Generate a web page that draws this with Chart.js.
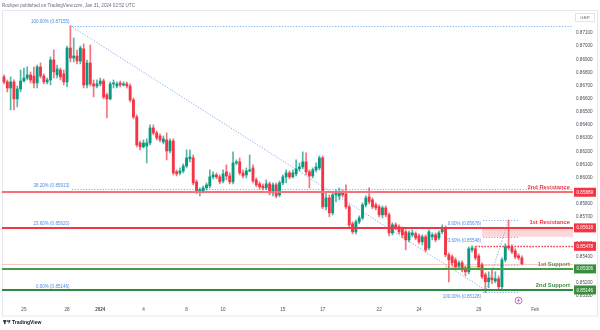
<!DOCTYPE html>
<html>
<head>
<meta charset="utf-8">
<script src="https://cdn.jsdelivr.net/npm/chart.js@4.4.1/dist/chart.umd.min.js"></script>
<style>
  html, body { margin: 0; padding: 0; background: #fff; }
  #wrap { width: 600px; height: 330px; }
</style>
</head>
<body>
<div id="wrap"><canvas id="chart" width="600" height="330"></canvas></div>
<script>
// EURGBP 4h candles, Dec 22 2023 -> Jan 31 2024
const opens = [
  0.86766, 0.86728, 0.86682, 0.86728, 0.86599, 0.86675, 0.86735, 0.86758, 0.86781, 0.86773,
  0.86720, 0.86842, 0.86773, 0.86728, 0.86743, 0.86895, 0.86781, 0.86819, 0.86789, 0.86728,
  0.86986, 0.86910, 0.86925, 0.86887, 0.86979, 0.86705, 0.86872, 0.86713, 0.86697, 0.86713,
  0.86735, 0.86629, 0.86599, 0.86713, 0.86697, 0.86720, 0.86705, 0.86713, 0.86697, 0.86591,
  0.86462, 0.86264, 0.86234, 0.86241, 0.86264, 0.86378, 0.86340, 0.86317, 0.86272, 0.86287,
  0.86203, 0.86279, 0.86044, 0.86036, 0.86051, 0.86089, 0.86143, 0.86150, 0.85968, 0.85892,
  0.85899, 0.85922, 0.85937, 0.86006, 0.86021, 0.86006, 0.85975, 0.86044, 0.86013, 0.85968,
  0.86112, 0.86120, 0.86036, 0.86021, 0.86051, 0.86074, 0.85983, 0.85953, 0.85937, 0.85922,
  0.85953, 0.85884, 0.85945, 0.85869, 0.85960, 0.86006, 0.86036, 0.86006, 0.86029, 0.86067,
  0.86082, 0.86120, 0.86044, 0.86013, 0.86059, 0.86074, 0.86150, 0.85778, 0.85846, 0.85732,
  0.85869, 0.85861, 0.85884, 0.85877, 0.85778, 0.85649, 0.85588, 0.85664, 0.85694, 0.85793,
  0.85854, 0.85831, 0.85793, 0.85778, 0.85717, 0.85770, 0.85717, 0.85580, 0.85641, 0.85626,
  0.85611, 0.85588, 0.85527, 0.85565, 0.85573, 0.85557, 0.85512, 0.85550, 0.85466, 0.85550,
  0.85565, 0.85542, 0.85588, 0.85618, 0.85413, 0.85398, 0.85375, 0.85329, 0.85352, 0.85314,
  0.85284, 0.85451, 0.85459, 0.85405, 0.85337, 0.85261, 0.85208, 0.85238, 0.85215, 0.85231,
  0.85170, 0.85375, 0.85481, 0.85474, 0.85443, 0.85405, 0.85390
];
const highs = [
  0.86781, 0.86743, 0.86766, 0.86743, 0.86697, 0.86819, 0.86834, 0.86842, 0.86804, 0.86842,
  0.86857, 0.86872, 0.86789, 0.86758, 0.86918, 0.86971, 0.86857, 0.86834, 0.86819, 0.87001,
  0.87155, 0.87062, 0.86971, 0.87001, 0.87017, 0.86895, 0.87009, 0.86743, 0.86743, 0.86758,
  0.86751, 0.86644, 0.86728, 0.86743, 0.86728, 0.86735, 0.86728, 0.86728, 0.86713, 0.86606,
  0.86477, 0.86279, 0.86287, 0.86295, 0.86401, 0.86401, 0.86355, 0.86333, 0.86317, 0.86340,
  0.86295, 0.86295, 0.86059, 0.86074, 0.86105, 0.86211, 0.86211, 0.86173, 0.85983, 0.85922,
  0.85937, 0.85960, 0.86059, 0.86044, 0.86036, 0.86021, 0.86059, 0.86097, 0.86036, 0.86196,
  0.86135, 0.86150, 0.86059, 0.86074, 0.86173, 0.86097, 0.85998, 0.85968, 0.85953, 0.85983,
  0.85968, 0.85960, 0.85960, 0.85975, 0.86021, 0.86059, 0.86051, 0.86059, 0.86135, 0.86112,
  0.86196, 0.86188, 0.86059, 0.86074, 0.86112, 0.86165, 0.86165, 0.85892, 0.85869, 0.85892,
  0.85907, 0.85922, 0.85907, 0.85945, 0.85793, 0.85664, 0.85679, 0.85709, 0.85808, 0.85861,
  0.85922, 0.85846, 0.85808, 0.85793, 0.85785, 0.85785, 0.85732, 0.85656, 0.85656, 0.85641,
  0.85626, 0.85603, 0.85595, 0.85603, 0.85588, 0.85573, 0.85565, 0.85565, 0.85603, 0.85580,
  0.85580, 0.85595, 0.85641, 0.85633, 0.85428, 0.85413, 0.85390, 0.85367, 0.85367, 0.85329,
  0.85474, 0.85481, 0.85474, 0.85421, 0.85352, 0.85276, 0.85284, 0.85299, 0.85284, 0.85253,
  0.85390, 0.85497, 0.85678, 0.85489, 0.85459, 0.85421, 0.85405
];
const lows = [
  0.86713, 0.86652, 0.86515, 0.86515, 0.86538, 0.86652, 0.86728, 0.86743, 0.86720, 0.86682,
  0.86682, 0.86758, 0.86713, 0.86713, 0.86705, 0.86758, 0.86758, 0.86743, 0.86705, 0.86690,
  0.86880, 0.86880, 0.86865, 0.86865, 0.86682, 0.86682, 0.86697, 0.86614, 0.86682, 0.86697,
  0.86599, 0.86454, 0.86591, 0.86682, 0.86682, 0.86690, 0.86697, 0.86682, 0.86576, 0.86447,
  0.86234, 0.86211, 0.86226, 0.86112, 0.86249, 0.86325, 0.86287, 0.86272, 0.86257, 0.86135,
  0.86188, 0.86021, 0.86013, 0.86021, 0.86036, 0.86074, 0.86120, 0.85945, 0.85877, 0.85861,
  0.85884, 0.85907, 0.85922, 0.85991, 0.85991, 0.85953, 0.85960, 0.85983, 0.85953, 0.85953,
  0.86097, 0.86021, 0.85998, 0.85998, 0.86044, 0.85960, 0.85930, 0.85915, 0.85907, 0.85907,
  0.85869, 0.85861, 0.85846, 0.85854, 0.85945, 0.85960, 0.85991, 0.85998, 0.86013, 0.86051,
  0.86067, 0.86021, 0.85922, 0.85998, 0.86044, 0.86059, 0.85763, 0.85755, 0.85702, 0.85717,
  0.85816, 0.85831, 0.85854, 0.85763, 0.85626, 0.85573, 0.85573, 0.85649, 0.85679, 0.85778,
  0.85801, 0.85763, 0.85755, 0.85702, 0.85694, 0.85702, 0.85557, 0.85565, 0.85603, 0.85573,
  0.85542, 0.85451, 0.85512, 0.85550, 0.85527, 0.85497, 0.85489, 0.85436, 0.85451, 0.85527,
  0.85512, 0.85527, 0.85573, 0.85398, 0.85208, 0.85329, 0.85299, 0.85314, 0.85284, 0.85253,
  0.85269, 0.85436, 0.85375, 0.85307, 0.85231, 0.85128, 0.85162, 0.85193, 0.85200, 0.85155,
  0.85155, 0.85360, 0.85451, 0.85421, 0.85383, 0.85375, 0.85337
];
const closes = [
  0.86728, 0.86682, 0.86728, 0.86599, 0.86675, 0.86735, 0.86758, 0.86781, 0.86743, 0.86720,
  0.86842, 0.86773, 0.86728, 0.86743, 0.86895, 0.86804, 0.86827, 0.86766, 0.86728, 0.86986,
  0.86910, 0.86925, 0.86887, 0.86986, 0.86705, 0.86872, 0.86713, 0.86697, 0.86713, 0.86735,
  0.86614, 0.86599, 0.86713, 0.86720, 0.86713, 0.86705, 0.86713, 0.86697, 0.86591, 0.86462,
  0.86249, 0.86234, 0.86264, 0.86264, 0.86378, 0.86340, 0.86302, 0.86287, 0.86295, 0.86203,
  0.86279, 0.86036, 0.86029, 0.86051, 0.86089, 0.86150, 0.86158, 0.85960, 0.85892, 0.85907,
  0.85922, 0.85945, 0.86006, 0.86021, 0.86006, 0.85968, 0.86029, 0.86013, 0.85968, 0.86112,
  0.86120, 0.86036, 0.86013, 0.86051, 0.86059, 0.85975, 0.85945, 0.85930, 0.85922, 0.85953,
  0.85884, 0.85945, 0.85861, 0.85960, 0.86006, 0.86036, 0.86006, 0.86036, 0.86067, 0.86082,
  0.86120, 0.86044, 0.86013, 0.86059, 0.86082, 0.86150, 0.85778, 0.85846, 0.85732, 0.85869,
  0.85884, 0.85884, 0.85869, 0.85778, 0.85641, 0.85588, 0.85664, 0.85694, 0.85793, 0.85846,
  0.85816, 0.85778, 0.85770, 0.85717, 0.85770, 0.85717, 0.85580, 0.85641, 0.85618, 0.85588,
  0.85565, 0.85527, 0.85580, 0.85580, 0.85542, 0.85512, 0.85550, 0.85451, 0.85588, 0.85565,
  0.85527, 0.85580, 0.85618, 0.85413, 0.85375, 0.85352, 0.85322, 0.85352, 0.85299, 0.85284,
  0.85459, 0.85466, 0.85390, 0.85322, 0.85246, 0.85208, 0.85238, 0.85223, 0.85231, 0.85170,
  0.85375, 0.85474, 0.85466, 0.85436, 0.85398, 0.85390, 0.85345
];

// time axis: candle index where each day label sits
const dayTicks = [6, 19, 29, 42, 55, 66, 84, 96, 113, 125, 143, 160];
const dayLabels = ["25", "28", "2024", "4", "8", "10", "15", "17", "22", "24", "29", "Feb"];
const priceTicks = [0.851, 0.852, 0.853, 0.854, 0.855, 0.856, 0.857, 0.858, 0.859, 0.860, 0.861,
  0.862, 0.863, 0.864, 0.865, 0.866, 0.867, 0.868, 0.869, 0.870, 0.871];

// fib retracement, Dec 28 high -> Jan 29 low
const bigFibPct = ["100.00%", "38.20%", "23.60%", "0.00%"];
const bigFibPrice = [0.87155, 0.85913, 0.85620, 0.85146];
const bigFibFrom = 20, bigFibTo = 145;
// small fib, Jan 29 low -> Jan 30 high
const smallFibPct = ["0.00%", "23.60%", "61.80%", "100.00%"];
const smallFibPrice = [0.85678, 0.85548, 0.85338, 0.85128];
const smallFibFrom = 145, smallFibTo = 152, smallFibEnd = 155;

const levelNames = ["2nd Resistance", "1st Resistance", "1st Support", "2nd Support"];
const levelPrices = [0.85889, 0.85618, 0.85306, 0.85146];
const pivotPrice = 0.85478, pivotFrom = 142;
const zonePrices = [0.85618, 0.85550], zoneFrom = 144;
const lastPrice = 0.85345;

const FONT = '"Liberation Sans", Arial, sans-serif';
const UP = "#089981", DOWN = "#f23645";
const UP_WICK = "rgba(8,153,129,0.7)", DOWN_WICK = "rgba(242,54,69,0.7)";
const FIB_LINE = "#7fb0ee", FIB_TEXT = "#4d8ce0";

const idx = closes.map((_, i) => i);
const isUp = idx.map((i) => closes[i] >= opens[i]);

const helpers = (chart) => {
  const c = chart.ctx;
  const xs = chart.scales.x, ys = chart.scales.y;
  const X = (v) => xs.getPixelForValue(v);
  const Y = (v) => ys.getPixelForValue(v);
  const hline = (v, x0, x1, color, w, dash) => {
    const yy = w % 2 ? Math.round(Y(v)) + 0.5 : Math.round(Y(v));
    c.beginPath();
    c.setLineDash(dash || []);
    c.strokeStyle = color;
    c.lineWidth = w;
    c.moveTo(x0, yy);
    c.lineTo(x1, yy);
    c.stroke();
  };
  const seg = (i0, v0, i1, v1, color) => {
    c.beginPath();
    c.setLineDash([1.2, 1.6]);
    c.strokeStyle = color;
    c.lineWidth = 1;
    c.moveTo(X(i0), Y(v0));
    c.lineTo(X(i1), Y(v1));
    c.stroke();
  };
  const text = (s, xx, yy, color, font, align) => {
    c.fillStyle = color;
    c.font = font;
    c.textAlign = align || "left";
    c.textBaseline = "middle";
    c.fillText(s, xx, yy);
  };
  return { c, X, Y, hline, seg, text };
};

const drawings = {
  id: "drawings",
  beforeDraw(chart) {
    const c = chart.ctx;
    c.save();
    c.fillStyle = "#ffffff";
    c.fillRect(0, 0, chart.width, chart.height);
    c.fillStyle = "#6a6d78";
    c.font = "4.6px " + FONT;
    c.textBaseline = "middle";
    c.fillText("Rockpet published on TradingView.com, Jan 31, 2024 02:52 UTC", 2, 5.5);
    c.strokeStyle = "#e6e8ee";
    c.lineWidth = 1;
    c.strokeRect(2.5, 10.5, 595, 305.5);
    // TradingView mark
    c.fillStyle = "#131722";
    c.fillRect(3, 320.3, 3.2, 1.3);
    c.fillRect(4.2, 320.3, 1.3, 3.8);
    c.beginPath();
    c.arc(7.3, 321, 0.8, 0, Math.PI * 2);
    c.fill();
    c.beginPath();
    c.moveTo(8.3, 320.3);
    c.lineTo(10.6, 320.3);
    c.lineTo(8.8, 324.1);
    c.closePath();
    c.fill();
    c.font = "bold 5px " + FONT;
    c.fillText("TradingView", 12, 322.3);
    c.restore();
  },
  beforeDatasetsDraw(chart) {
    const a = chart.chartArea;
    const { c, X, Y, hline, seg, text } = helpers(chart);
    c.save();

    hline(lastPrice, a.left, a.right, "rgba(242,54,69,0.28)", 1);

    // supply zone
    c.fillStyle = "rgba(242,54,69,0.2)";
    c.fillRect(X(zoneFrom), Y(zonePrices[0]), a.right - X(zoneFrom), Y(zonePrices[1]) - Y(zonePrices[0]));

    // big fib
    bigFibPrice.forEach((p, k) => {
      hline(p, X(bigFibFrom) + 1.5, a.right, FIB_LINE, 1, [1.2, 1.6]);
      text(bigFibPct[k] + " (" + p.toFixed(5) + ")", X(bigFibFrom) - 1, Y(p) - 3.6, FIB_TEXT, "4.5px " + FONT, "right");
    });
    seg(bigFibFrom, bigFibPrice[0], bigFibTo, bigFibPrice[3], FIB_LINE);

    // small fib
    smallFibPrice.forEach((p, k) => {
      const col = k === 2 ? "#f0b429" : FIB_LINE;
      hline(p, X(smallFibFrom - 1) + 1, X(smallFibEnd), col, 1, [1.2, 1.6]);
      text(smallFibPct[k] + " (" + p.toFixed(5) + ")", X(smallFibFrom - 1) - 1, Y(p) + 4,
        k === 2 ? "#e2a526" : FIB_TEXT, "4.5px " + FONT, "right");
    });
    seg(smallFibFrom, smallFibPrice[3], smallFibTo, smallFibPrice[0], FIB_LINE);

    c.restore();
  },
  afterDatasetsDraw(chart) {
    const a = chart.chartArea;
    const { c, X, Y, hline, text } = helpers(chart);
    c.save();

    // pivot
    hline(pivotPrice, X(pivotFrom), a.right, "#f23645", 1.5, [1.5, 1.5]);

    // support / resistance
    const lvlColor = ["#f6707a", "#f23645", "#43a047", "#2e8b3e"];
    const txtColor = ["#f23645", "#f23645", "#5e8f62", "#3f8a46"];
    levelPrices.forEach((p, k) => {
      hline(p, a.left, a.right, lvlColor[k], 2);
      text(levelNames[k], a.right - 3, Y(p) - 5, txtColor[k], "bold 5.8px " + FONT, "right");
    });

    // price labels on the axis
    const boxes = [
      [levelPrices[0], "#f23645"], [levelPrices[1], "#f23645"], [pivotPrice, "#f23645"],
      [levelPrices[2], "#388e3c"], [levelPrices[3], "#388e3c"]
    ];
    c.setLineDash([]);
    boxes.forEach(([p, col]) => {
      const yy = Y(p);
      c.fillStyle = col;
      c.fillRect(574, yy - 4.5, 22, 9);
      text(p.toFixed(5), 576.5, yy + 0.3, "#ffffff", "4.6px " + FONT, "left");
    });

    // currency box
    c.strokeStyle = "#e0e3eb";
    c.lineWidth = 1;
    c.fillStyle = "#ffffff";
    c.fillRect(575.5, 13.5, 19, 8);
    c.strokeRect(575.5, 13.5, 19, 8);
    text("GBP", 585, 17.6, "#6a6d78", "4.4px " + FONT, "center");

    // event marker
    const ex = X(smallFibEnd), ey = 300.5;
    c.strokeStyle = "#ab47bc";
    c.lineWidth = 0.8;
    c.beginPath();
    c.arc(ex, ey, 3.4, 0, Math.PI * 2);
    c.stroke();
    c.beginPath();
    c.moveTo(ex + 0.6, ey - 2);
    c.lineTo(ex - 0.9, ey + 0.3);
    c.lineTo(ex + 0.8, ey - 0.2);
    c.lineTo(ex - 0.5, ey + 2);
    c.stroke();

    c.restore();
  }
};

Chart.defaults.font.family = FONT;

new Chart(document.getElementById("chart"), {
  type: "bar",
  data: {
    datasets: [
      {
        data: idx.map((i) => ({ x: i, y: [opens[i], closes[i]] })),
        backgroundColor: isUp.map((u) => (u ? UP : DOWN)),
        barThickness: 2.2,
        minBarLength: 1,
        grouped: false,
        order: 0
      },
      {
        data: idx.map((i) => ({ x: i, y: [lows[i], highs[i]] })),
        backgroundColor: isUp.map((u) => (u ? UP_WICK : DOWN_WICK)),
        barThickness: 1,
        grouped: false,
        order: 1
      }
    ]
  },
  options: {
    responsive: false,
    animation: false,
    layout: { padding: { left: 2, top: 11, right: 0, bottom: 14 } },
    plugins: { legend: { display: false }, tooltip: { enabled: false } },
    scales: {
      x: {
        type: "linear",
        min: -0.6,
        max: 171.4,
        offset: false,
        bounds: "data",
        grid: { display: false, drawTicks: false },
        border: { display: false },
        afterBuildTicks: (s) => { s.ticks = dayTicks.map((v) => ({ value: v })); },
        afterFit: (s) => { s.height = 13; },
        ticks: {
          autoSkip: false,
          maxRotation: 0,
          padding: 4,
          color: "#4a4d57",
          font: (ctx) => ({ family: FONT, size: 4.6, weight: ctx.tick && ctx.tick.value === 29 ? "bold" : "normal" }),
          callback: (v, i) => dayLabels[i]
        }
      },
      y: {
        position: "right",
        min: 0.850468,
        max: 0.872673,
        bounds: "data",
        grid: { display: false, drawTicks: false },
        border: { display: false },
        afterBuildTicks: (s) => { s.ticks = priceTicks.map((v) => ({ value: v })); },
        afterFit: (s) => { s.width = 27; },
        ticks: {
          padding: 3,
          color: "#4a4d57",
          font: { family: FONT, size: 4.6 },
          callback: (v) => Number(v).toFixed(5)
        }
      }
    }
  },
  plugins: [drawings]
});
</script>
</body>
</html>
